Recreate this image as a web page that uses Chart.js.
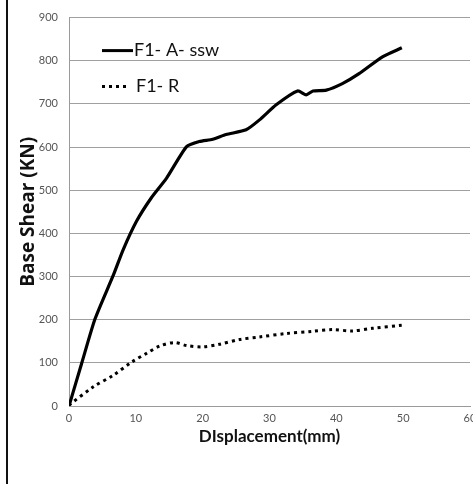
<!DOCTYPE html>
<html>
<head>
<meta charset="utf-8">
<script src="https://cdn.jsdelivr.net/npm/chart.js@4.4.0/dist/chart.umd.min.js"></script>
<style>
    html, body { margin: 0; padding: 0; background: #fff; }
    #wrap { position: relative; width: 473px; height: 484px; }
    #edge { position: absolute; left: 6px; top: 0; width: 2px; height: 484px; background: #111; }
</style>
</head>
<body>
<div id="wrap">
    <canvas id="pushoverChart" width="473" height="484"></canvas>
    <div id="edge"></div>
</div>
<script>
// F1- A- ssw (solid)
const sswDisp  = [0, 1.9, 3.9, 6.6, 8.1, 10.1, 12.3, 14.6, 17.6, 19.5, 21.5, 23.5, 26.5, 28.5, 31, 34.2, 35.5, 36.5, 38.5, 40.9, 43.4, 46.9, 49.8];
const sswShear = [0, 99, 202, 302, 362, 428, 482, 528, 601, 613, 618, 629, 640, 663, 698, 730, 721, 730, 732, 747, 770, 809, 830];

// F1- R (dotted)
const rDisp  = [0, 3.6, 6.6, 9.4, 11.6, 13.6, 15.8, 17.6, 20, 22.5, 25.5, 28.5, 32.5, 36.4, 39.4, 42.4, 45.4, 49.8];
const rShear = [2, 44, 71, 102, 122, 139, 147, 140, 137, 143, 154, 160, 168, 173, 177, 174, 180, 187];

const seriesNames = ['F1- A- ssw', 'F1- R'];
const xTicks = [0, 10, 20, 30, 40, 50, 60];
const yTicks = [0, 100, 200, 300, 400, 500, 600, 700, 800, 900];

const toPoints = (xs, ys) => xs.map((x, i) => ({ x: x, y: ys[i] }));

// legend drawn inside the plot, top-left
const insideLegend = {
    id: 'insideLegend',
    afterDatasetsDraw(chart) {
        const ctx = chart.ctx;
        const area = chart.chartArea;
        const x0 = area.left + 33;
        const rows = [area.top + 33, area.top + 69];
        ctx.save();
        ctx.font = '18px Lato';
        ctx.fillStyle = '#111';
        ctx.textBaseline = 'middle';
        chart.data.datasets.forEach((ds, i) => {
            const y = rows[i];
            ctx.beginPath();
            ctx.lineWidth = 3;
            ctx.strokeStyle = '#000';
            ctx.setLineDash(ds.borderDash || []);
            ctx.moveTo(x0, y);
            ctx.lineTo(x0 + (i === 0 ? 31 : 24), y);
            ctx.stroke();
            ctx.setLineDash([]);
            ctx.fillText(ds.label, x0 + (i === 0 ? 32 : 34), y);
        });
        ctx.restore();
    }
};

const ctx = document.getElementById('pushoverChart').getContext('2d');

new Chart(ctx, {
    type: 'line',
    data: {
        datasets: [
            {
                label: seriesNames[0],
                data: toPoints(sswDisp, sswShear),
                borderColor: '#000',
                borderWidth: 3.2,
                pointRadius: 0,
                tension: 0.2,
                fill: false
            },
            {
                label: seriesNames[1],
                data: toPoints(rDisp, rShear),
                borderColor: '#000',
                borderWidth: 3,
                borderDash: [3, 4],
                borderCapStyle: 'butt',
                pointRadius: 0,
                tension: 0.3,
                fill: false
            }
        ]
    },
    options: {
        responsive: false,
        animation: false,
        layout: {
            padding: { left: 10, right: 3, top: 15, bottom: 33 }
        },
        plugins: {
            legend: { display: false },
            tooltip: { enabled: false }
        },
        scales: {
            x: {
                type: 'linear',
                min: 0,
                max: 60,
                afterBuildTicks: (scale) => { scale.ticks = xTicks.map(v => ({ value: v })); },
                afterFit: (scale) => { scale.height = 45; scale.paddingRight = 0; scale.paddingLeft = 0; },
                grid: { display: false, drawTicks: false },
                border: { display: true, color: '#9a9a9a', width: 1 },
                ticks: {
                    color: '#555',
                    font: { size: 11, family: 'Lato' },
                    padding: 6,
                    maxRotation: 0
                },
                title: {
                    display: true,
                    text: 'DIsplacement(mm)',
                    color: '#111',
                    font: { size: 17, weight: 'bold', family: 'Lato' },
                    padding: { top: 0 }
                }
            },
            y: {
                min: 0,
                max: 900,
                afterBuildTicks: (scale) => { scale.ticks = yTicks.map(v => ({ value: v })); },
                afterFit: (scale) => { scale.width = 59; },
                grid: { color: '#a0a0a0', lineWidth: 1, drawTicks: false },
                border: { display: true, color: '#9a9a9a', width: 1 },
                ticks: {
                    color: '#555',
                    font: { size: 11, family: 'Lato' },
                    padding: 11
                },
                title: {
                    display: true,
                    text: 'Base Shear (KN)',
                    color: '#111',
                    font: { size: 19, weight: 'bold', family: 'Open Sans' },
                    padding: { top: 7, bottom: 0 }
                }
            }
        }
    },
    plugins: [insideLegend]
});
</script>
</body>
</html>
